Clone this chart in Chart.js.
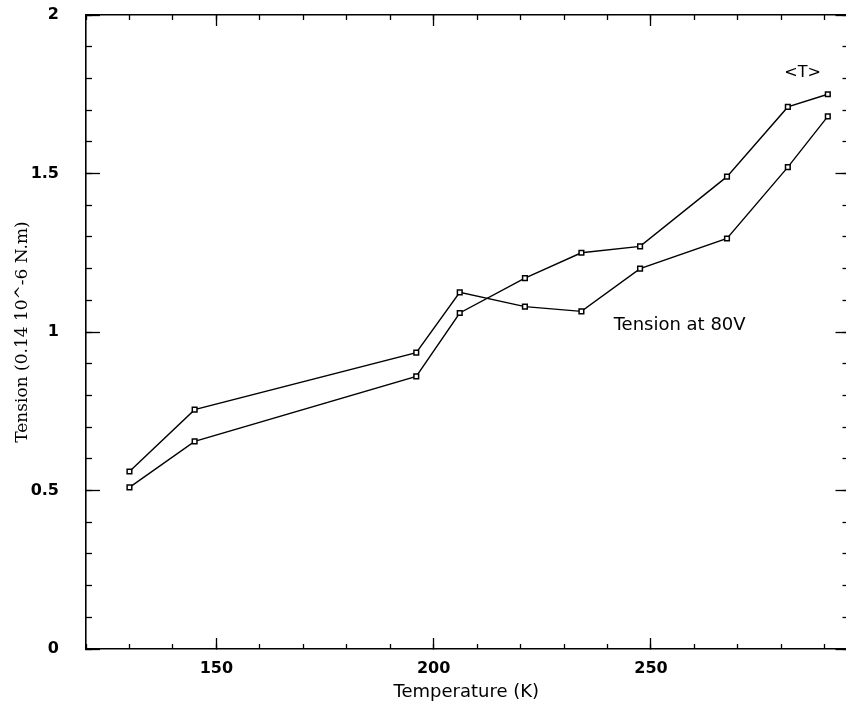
<!DOCTYPE html>
<html>
<head>
<meta charset="utf-8">
<script src="https://cdn.jsdelivr.net/npm/chart.js@4.4.1/dist/chart.umd.min.js"></script>
<style>
  html, body { margin: 0; padding: 0; background: #fff; overflow: hidden; }
  #wrap { width: 846px; height: 711px; overflow: hidden; }
</style>
</head>
<body>
<div id="wrap"><canvas id="chart" width="852" height="711"></canvas></div>
<script>
// temperatures (K)
const temps = [130, 145, 196, 206, 221, 234, 247.5, 267.5, 281.5, 290.7];
// tension at 80V
const tension80V = [0.56, 0.755, 0.935, 1.125, 1.08, 1.065, 1.2, 1.295, 1.52, 1.68];
// mean tension <T>
const tensionMean = [0.51, 0.655, 0.86, 1.06, 1.17, 1.25, 1.27, 1.49, 1.71, 1.75];

const xMajorLabels = [150, 200, 250];
const yTickLabels = ["0", "0.5", "1", "1.5", "2"];

// text labels placed in data coordinates
const notes = [
  { text: "Tension at 80V", x: 256.6, y: 1.022, size: 18 },
  { text: "<T>", x: 284.9, y: 1.817, size: 16 },
];

const toPoints = ys => temps.map((t, i) => ({ x: t, y: ys[i] }));

const ink = "#000";
const sans = "'DejaVu Sans', 'Liberation Sans', sans-serif";

const lineStyle = {
  borderColor: ink,
  borderWidth: 1.4,
  pointStyle: "rect",
  pointRadius: 3.3,
  pointBorderWidth: 1.5,
  pointBackgroundColor: "#fff",
  pointBorderColor: ink,
  showLine: true,
  tension: 0,
};

// no extra label padding, keep the plot box fixed
const noPad = s => { s.paddingTop = s.paddingBottom = s.paddingLeft = s.paddingRight = 0; };

// helper for tick-only axes (ticks pointing inward)
const tickAxis = (position, axis, step, len, extra = {}) => ({
  type: "linear",
  position,
  axis,
  weight: -1,
  min: axis === "x" ? 120 : 0,
  max: axis === "x" ? 295 : 2,
  grid: { drawOnChartArea: false, tickLength: -len, color: ink, tickWidth: 1.3 },
  border: { display: false },
  ticks: { display: false, stepSize: step, includeBounds: false },
  afterFit: s => { noPad(s); if (axis === "x") s.height = 0; else s.width = 0; },
  ...extra,
});

const notesPlugin = {
  id: "notes",
  afterDatasetsDraw(chart) {
    const { ctx, scales } = chart;
    ctx.save();
    ctx.fillStyle = ink;
    ctx.textAlign = "center";
    ctx.textBaseline = "middle";
    notes.forEach(n => {
      ctx.font = `${n.size}px ${sans}`;
      ctx.fillText(n.text, scales.x.getPixelForValue(n.x), scales.y.getPixelForValue(n.y));
    });
    ctx.restore();
  },
};

new Chart(document.getElementById("chart"), {
  type: "scatter",
  data: {
    datasets: [
      { label: "Tension at 80V", data: toPoints(tension80V), ...lineStyle },
      { label: "<T>", data: toPoints(tensionMean), ...lineStyle },
    ],
  },
  plugins: [notesPlugin],
  options: {
    responsive: false,
    animation: false,
    layout: { padding: { top: 15, right: 0, left: 0, bottom: 0 } },
    plugins: { legend: { display: false }, tooltip: { enabled: false } },
    scales: {
      x: {
        type: "linear",
        position: "bottom",
        min: 120,
        max: 295,
        grid: { drawOnChartArea: false, tickLength: -11, color: ink, tickWidth: 1.3 },
        border: { display: true, color: ink, width: 1.6 },
        ticks: {
          stepSize: 50,
          includeBounds: false,
          padding: 21,
          color: ink,
          font: { family: sans, size: 16, weight: "bold" },
          callback: v => (xMajorLabels.includes(v) ? String(v) : ""),
        },
        title: {
          display: true,
          text: "Temperature (K)",
          color: ink,
          font: { family: sans, size: 18 },
          padding: { top: 0, bottom: 8 },
        },
        afterFit: s => { noPad(s); s.height = 62; },
      },
      xMinor: tickAxis("bottom", "x", 10, 5),
      xTop: tickAxis("top", "x", 50, 11, {
        weight: 0,
        border: { display: true, color: ink, width: 1.6 },
      }),
      xTopMinor: tickAxis("top", "x", 10, 5),
      y: {
        type: "linear",
        position: "left",
        min: 0,
        max: 2,
        grid: { drawOnChartArea: false, tickLength: -14, color: ink, tickWidth: 1.3 },
        border: { display: true, color: ink, width: 1.6 },
        ticks: {
          stepSize: 0.5,
          padding: 41,
          color: ink,
          font: { family: sans, size: 16, weight: "bold" },
          callback: (v, i) => yTickLabels[i],
        },
        title: {
          display: true,
          text: "Tension (0.14 10^-6 N.m)",
          color: ink,
          font: { family: "'DejaVu Serif', 'Liberation Serif', serif", size: 17 },
          padding: { top: 12, bottom: 0 },
        },
        afterFit: s => { noPad(s); s.width = 86; },
      },
      yMinor: tickAxis("left", "y", 0.1, 6),
      yRight: tickAxis("right", "y", 0.5, 11, {
        weight: 0,
        border: { display: true, color: ink, width: 1.6 },
      }),
      yRightMinor: tickAxis("right", "y", 0.1, 4),
    },
  },
});
</script>
</body>
</html>
